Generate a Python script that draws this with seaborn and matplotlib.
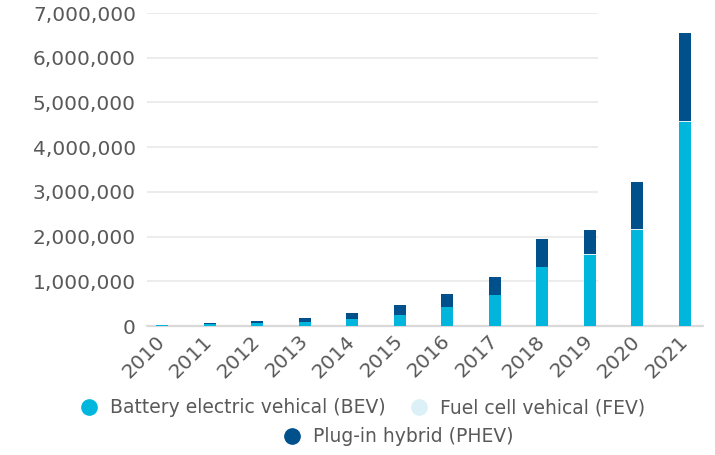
import numpy as np
import pandas as pd
import matplotlib
matplotlib.use("Agg")
import matplotlib.pyplot as plt
import matplotlib.transforms as mtransforms
from matplotlib.lines import Line2D
from matplotlib.ticker import FuncFormatter
import seaborn as sns

# Data (vehicle sales per year)
years = ["2010", "2011", "2012", "2013", "2014", "2015",
         "2016", "2017", "2018", "2019", "2020", "2021"]
bev = [30000, 40000, 60000, 100000, 160000, 250000,
       430000, 690000, 1320000, 1590000, 2150000, 4560000]
fev = [0, 0, 0, 0, 100, 600, 2000, 3000, 4000, 10000, 9000, 20000]
phev = [3000, 25000, 60000, 90000, 140000, 220000,
        290000, 410000, 630000, 540000, 1070000, 1970000]
y_ticks = [0, 1000000, 2000000, 3000000, 4000000, 5000000, 6000000, 7000000]

c_bev = "#00b6dd"
c_fev = "#dcf0f7"
c_phev = "#00508c"
txt = "#595959"

df = pd.DataFrame({"year": years, "BEV": bev, "FEV": fev, "PHEV": phev})
df["bev_fev"] = df["BEV"] + df["FEV"]
df["total"] = df["bev_fev"] + df["PHEV"]

sns.set_style("white")
plt.rcParams["font.family"] = ["DejaVu Sans"]

fig = plt.figure(figsize=(7.15, 4.55), dpi=100)
ax = fig.add_axes([0.2056, 0.2835, 0.7776, 0.6879])

# stacked bars: draw cumulative totals back to front
for col, c in [("total", c_phev), ("bev_fev", c_fev), ("BEV", c_bev)]:
    sns.barplot(data=df, x="year", y=col, color=c, width=0.25,
                saturation=1, linewidth=0, edgecolor="none", ax=ax, zorder=3)

ax.set_xlim(-0.32, 11.38)
ax.set_ylim(0, 7000000)
ax.set_yticks(y_ticks)
ax.yaxis.set_major_formatter(FuncFormatter(lambda v, p: f"{int(v):,}"))

# gridlines (they stop short of the last bars in the original)
for t in y_ticks[1:]:
    ax.hlines(t, -0.32, 9.18, color="#ebebeb", lw=1.3, zorder=1)
ax.axhline(0, color="#d9d9d9", lw=1.6, zorder=2, clip_on=False)

for s in ax.spines.values():
    s.set_visible(False)

ax.set_xlabel("")
ax.set_ylabel("")
ax.tick_params(axis="y", length=0, pad=8, labelsize=14.5, labelcolor=txt)
ax.tick_params(axis="x", length=0, pad=4, labelsize=14.5, labelcolor=txt)
shift = mtransforms.ScaledTranslation(-7 / 100, 0, fig.dpi_scale_trans)
for lab in ax.get_xticklabels():
    lab.set_rotation(45)
    lab.set_ha("right")
    lab.set_rotation_mode("anchor")
    lab.set_transform(lab.get_transform() + shift)

def dot(c):
    return Line2D([], [], marker="o", ls="", color=c, markersize=11)

leg1 = fig.legend([dot(c_bev), dot(c_fev)],
                  ["Battery electric vehical (BEV)", "Fuel cell vehical (FEV)"],
                  loc="center", bbox_to_anchor=(0.5, 0.104), ncol=2,
                  frameon=False, fontsize=13.5, handletextpad=0.1,
                  columnspacing=0.8, labelcolor=txt, borderpad=0)
leg2 = fig.legend([dot(c_phev)], ["Plug-in hybrid (PHEV)"],
                  loc="center", bbox_to_anchor=(0.55, 0.04),
                  frameon=False, fontsize=13.5, handletextpad=0.1,
                  labelcolor=txt, borderpad=0)

fig.savefig("out.png", dpi=100)
